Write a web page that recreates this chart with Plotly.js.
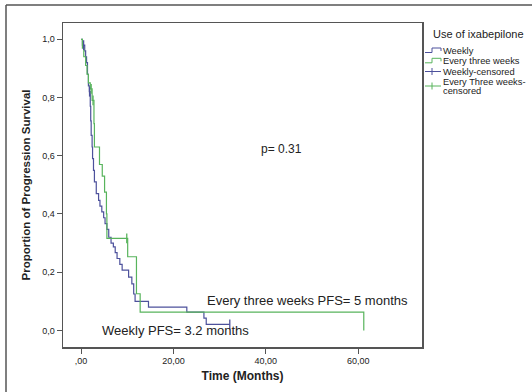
<!DOCTYPE html>
<html>
<head>
<meta charset="utf-8">
<script src="https://cdn.plot.ly/plotly-3.0.1.min.js"></script>
<style>
  html, body { margin: 0; padding: 0; background: #fff; }
  #chart { width: 532px; height: 392px; }
</style>
</head>
<body>
<div id="chart"></div>
<script>
// ---- Data ----
const weeklyTime = [0, 0.3, 0.8, 1.0, 1.2, 1.4, 1.6, 1.8, 2.0, 2.1, 2.2, 2.4, 2.5, 2.7, 2.9, 3.3, 3.8, 4.1, 4.5, 4.9, 5.2, 5.6, 6.0, 6.5, 7.0, 7.4, 7.8, 8.4, 8.9, 10.3, 11.0, 11.4, 11.7, 14.6, 22.9, 26.6, 27.1, 32.2];
const weeklySurv = [1.0, 0.98, 0.96, 0.94, 0.92, 0.88, 0.84, 0.82, 0.77, 0.72, 0.67, 0.63, 0.59, 0.55, 0.51, 0.47, 0.447, 0.427, 0.407, 0.387, 0.367, 0.347, 0.32, 0.30, 0.287, 0.267, 0.247, 0.227, 0.207, 0.183, 0.16, 0.125, 0.10, 0.08, 0.063, 0.042, 0.021, 0.021];
const weeklyCensorTime = [0.56, 1.85, 32.2];
const weeklyCensorSurv = [0.98, 0.82, 0.021];

const threeTime = [0, 0.3, 0.6, 1.0, 1.3, 1.6, 2.0, 2.4, 2.8, 2.9, 4.0, 4.6, 5.1, 5.5, 5.6, 10.1, 12.0, 12.8, 61.2];
const threeSurv = [1.0, 0.97, 0.94, 0.91, 0.88, 0.85, 0.83, 0.79, 0.71, 0.63, 0.57, 0.53, 0.475, 0.40, 0.316, 0.253, 0.126, 0.063, 0.0];
const threeCensorTime = [2.2, 2.6, 9.9];
const threeCensorSurv = [0.83, 0.79, 0.316];

const xTickVals = [0, 20, 40, 60];
const xTickText = [",00", "20,00", "40,00", "60,00"];
const yTickVals = [0, 0.2, 0.4, 0.6, 0.8, 1.0];
const yTickText = ["0,0", "0,2", "0,4", "0,6", "0,8", "1,0"];

const legendTitle = "Use of ixabepilone";
const legendLabels = ["Weekly", "Every three weeks", "Weekly-censored", "Every Three weeks-", "censored"];

// ---- Styles ----
const BLUE = "#4d519c";
const GREEN = "#58b45c";
const FONT = "Arial, 'Liberation Sans', sans-serif";
const W = 532, H = 392;
const M = {l: 63, r: 110, t: 23, b: 45};
const PW = W - M.l - M.r, PH = H - M.t - M.b;
const px = x => (x - M.l) / PW;          // pixel -> paper x
const py = y => (H - M.b - y) / PH;      // pixel -> paper y

const traces = [
  {x: weeklyTime, y: weeklySurv, name: "Weekly", type: "scatter", mode: "lines",
   line: {shape: "hv", color: BLUE, width: 1.2}},
  {x: threeTime, y: threeSurv, name: "Every three weeks", type: "scatter", mode: "lines",
   line: {shape: "hv", color: GREEN, width: 1.2}},
  {x: weeklyCensorTime, y: weeklyCensorSurv, name: "Weekly-censored", type: "scatter", mode: "markers",
   marker: {symbol: "line-ns-open", size: 7, color: BLUE, line: {color: BLUE, width: 1.3}}},
  {x: threeCensorTime, y: threeCensorSurv, name: "Every Three weeks-censored", type: "scatter", mode: "markers",
   marker: {symbol: "line-ns-open", size: 7, color: GREEN, line: {color: GREEN, width: 1.3}}}
];

// custom compact legend (icons + text) in paper coordinates
const shapes = [];
function seg(x0, y0, x1, y1, color, w) {
  shapes.push({type: "line", xref: "paper", yref: "paper",
    x0: px(x0), y0: py(y0), x1: px(x1), y1: py(y1),
    line: {color: color, width: w || 1}, layer: "above"});
}
// outer frame (top and left edges)
seg(6, 5, 540, 5, "#555", 1.5);
seg(6, 5, 6, 400, "#555", 1.5);

const iconY = [51, 61.3, 71.5, 86];
function stepIcon(y, color) {
  seg(425, y + 1.5, 432, y + 1.5, color, 1);
  seg(432, y + 1.5, 432, y - 3, color, 1);
  seg(432, y - 3, 441, y - 3, color, 1);
  seg(441, y - 3, 441, y, color, 1);
}
stepIcon(iconY[0], BLUE);
stepIcon(iconY[1], GREEN);
seg(425, iconY[2], 441, iconY[2], BLUE, 1);
seg(432, iconY[2] - 3.5, 432, iconY[2] + 3.5, BLUE, 1);
seg(425, iconY[3], 441, iconY[3], GREEN, 1);
seg(432, iconY[3] - 3.5, 432, iconY[3] + 3.5, GREEN, 1);

const textY = [51, 61.3, 71.5, 81.6, 91.4];
const annotations = [
  {text: "p= 0.31", x: 43.3, y: 0.622, xref: "x", yref: "y", showarrow: false,
   font: {family: FONT, size: 12, color: "#222"}},
  {text: "Every three weeks PFS= 5 months", x: 49.1, y: 0.103, xref: "x", yref: "y", showarrow: false,
   font: {family: FONT, size: 13, color: "#222"}},
  {text: "Weekly PFS= 3.2 months", x: 20.5, y: 0.0, xref: "x", yref: "y", showarrow: false,
   font: {family: FONT, size: 13, color: "#222"}},
  {text: legendTitle, x: px(431), y: py(34), xref: "paper", yref: "paper", xanchor: "left", yanchor: "middle",
   showarrow: false, font: {family: FONT, size: 11, color: "#222"}}
];
legendLabels.forEach((t, i) => {
  annotations.push({text: t, x: px(441), y: py(textY[i]), xref: "paper", yref: "paper",
    xanchor: "left", yanchor: "middle", showarrow: false,
    font: {family: FONT, size: 9.3, color: "#222"}});
});

const layout = {
  width: W, height: H,
  margin: M,
  paper_bgcolor: "#fff", plot_bgcolor: "#fff",
  showlegend: false,
  font: {family: FONT, color: "#222"},
  xaxis: {
    range: [-3.9, 73.8], tickvals: xTickVals, ticktext: xTickText,
    showgrid: false, zeroline: false, showline: true, mirror: true,
    linecolor: "#555", linewidth: 1.5, ticks: "outside", ticklen: 5, tickcolor: "#555", tickwidth: 1,
    tickfont: {family: FONT, size: 9, color: "#222"},
    title: {text: "<b>Time (Months)</b>", font: {family: FONT, size: 12, color: "#222"}, standoff: 6}
  },
  yaxis: {
    range: [-0.057, 1.056], tickvals: yTickVals, ticktext: yTickText,
    showgrid: false, zeroline: false, showline: true, mirror: true,
    linecolor: "#555", linewidth: 1.5, ticks: "outside", ticklen: 5, tickcolor: "#555", tickwidth: 1,
    tickfont: {family: FONT, size: 9, color: "#222"},
    title: {text: "<b>Proportion of Progression Survival</b>", font: {family: FONT, size: 11.5, color: "#222"}, standoff: 9}
  },
  shapes: shapes,
  annotations: annotations
};

Plotly.newPlot("chart", traces, layout, {displayModeBar: false, staticPlot: true});
</script>
</body>
</html>
